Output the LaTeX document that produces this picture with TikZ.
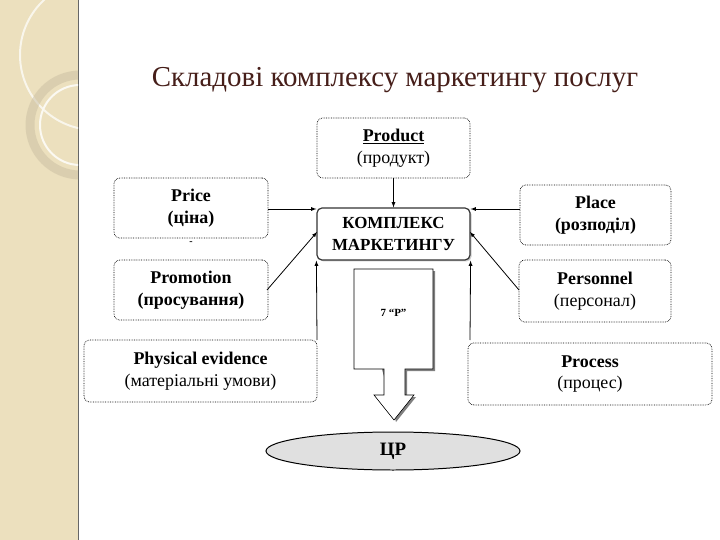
\documentclass[tikz,border=0pt]{standalone}
\usepackage{fontspec}
\setmainfont{Liberation Serif}
\usetikzlibrary{shapes.geometric,shadows}
\definecolor{beige}{RGB}{236,224,190}
\definecolor{titlec}{RGB}{70,30,25}
\tikzset{
  box/.style={draw=black,densely dotted,line width=0.7pt,rounded corners=6pt,fill=white,align=center,font=\fontsize{18}{22}\selectfont,inner sep=0pt},
  conn/.style={-latex,black,line width=0.8pt}
}
\begin{document}
\begin{tikzpicture}[x=1bp,y=-1bp]
\useasboundingbox (0,0) rectangle (720,540);
\fill[white] (0,0) rectangle (720,540);
\fill[beige] (0,0) rectangle (78,540);
\draw[black!60,line width=1pt] (78,0) -- (78,540);
\begin{scope}
\clip (0,0) rectangle (78,540);
\draw[white!70!beige,line width=2pt] (95,55) circle (75);
\draw[beige!85!black,line width=9pt,opacity=0.5] (80,125) circle (50);
\draw[white!80!beige,line width=2pt] (80,125) circle (40);
\end{scope}
\node[text=titlec,font=\fontsize{29}{33}\selectfont] (title) at (395,80) {Складові комплексу маркетингу послуг};

\node[box,minimum width=153bp,minimum height=60bp] (product) at (393.5,148) {\textbf{\underline{Product}}\\(продукт)};
\node[box,minimum width=154bp,minimum height=60bp] (price) at (191,208) {\textbf{Price}\\\textbf{(ціна)}};
\node[font=\bfseries] (dash) at (191,243) {-};
\node[box,minimum width=151bp,minimum height=60bp] (place) at (595.5,215) {\textbf{Place}\\\textbf{(розподіл)}};
\node[box,minimum width=154bp,minimum height=60bp] (promo) at (191,290) {\textbf{Promotion}\\\textbf{(просування)}};
\node[box,minimum width=152bp,minimum height=62bp] (pers) at (595,291) {\textbf{Personnel}\\(персонал)};
\node[box,minimum width=233bp,minimum height=62bp] (phys) at (200.5,371) {\textbf{Physical evidence}\\(матеріальні умови)};
\node[box,minimum width=244bp,minimum height=62bp] (proc) at (590,374) {\textbf{Process}\\(процес)};

\node[draw=black!80,line width=1.2pt,rounded corners=5pt,fill=white,drop shadow={shadow xshift=1.5pt,shadow yshift=-1.5pt,fill=black!40},minimum width=153bp,minimum height=52bp,align=center,font=\fontsize{17}{22}\selectfont\bfseries,inner sep=0pt] (core) at (393.5,234) {КОМПЛЕКС\\МАРКЕТИНГУ};

\fill[black!50] (356,271) -- (435,271) -- (435,371) -- (407,371) -- (407,397) -- (416,397) -- (396,422) -- cycle;
\draw[black,line width=0.6pt,fill=white] (354,269) -- (433,269) -- (433,369) -- (405,369) -- (405,395) -- (414,395) -- (394,420) -- (374,395) -- (384,395) -- (384,369) -- (354,369) -- cycle;
\node[font=\fontsize{11}{13}\selectfont\bfseries] (seven) at (393.5,313) {7 “P”};

\node[ellipse,draw=black,line width=1pt,fill=black!12,minimum width=254bp,minimum height=38bp,inner sep=0pt,font=\fontsize{19}{22}\selectfont\bfseries] (cr) at (393,451) {ЦР};

\coordinate (c1) at (317,340);
\coordinate (c2) at (470,340);
\draw[conn] (product.south) -- (core.north);
\draw[conn] (price.east |- 0,209) -- (core.west |- 0,209);
\draw[conn] (place.west |- 0,209) -- (core.east |- 0,209);
\draw[conn] (267,290) -- (317,232);
\draw[conn] (519,290) -- (470,232);
\draw[conn] (c1) -- (core.south west);
\draw[conn] (c2) -- (core.south east);
\end{tikzpicture}
\end{document}
